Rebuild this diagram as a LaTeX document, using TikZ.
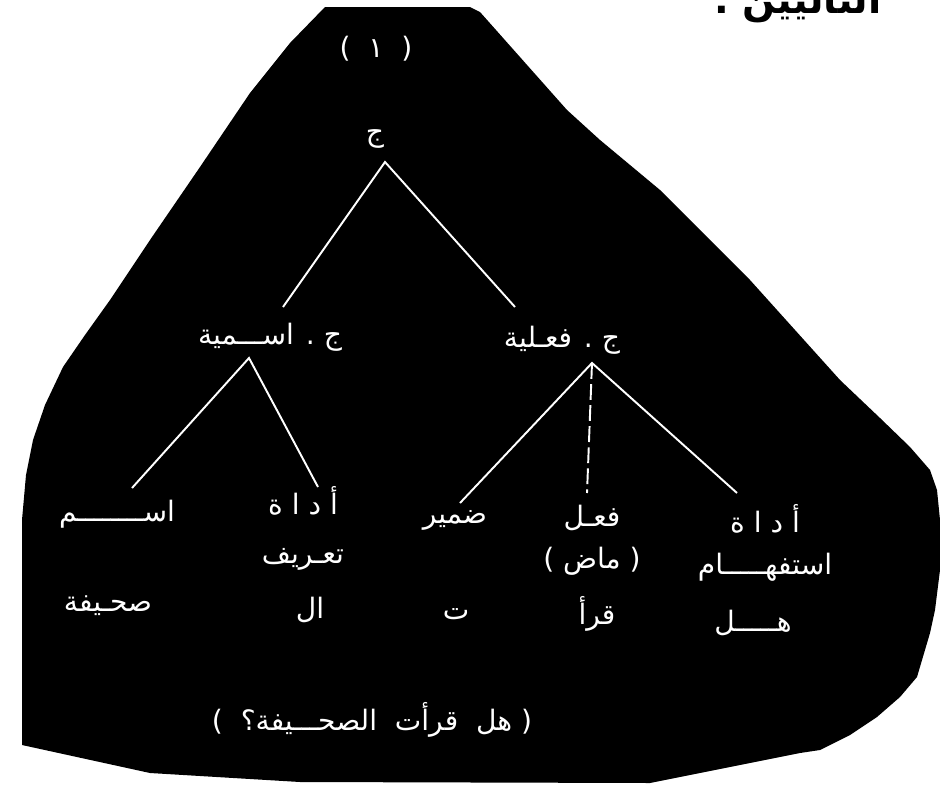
\documentclass[tikz,border=0pt]{standalone}
\usepackage{fontspec}
\newfontfamily\arabicfont[Script=Arabic]{DejaVu Sans}
\newfontfamily\latinfont{DejaVu Sans}
\TeXXeTstate=1
\begin{document}
\begin{tikzpicture}[x=0.02cm,y=-0.02cm,
  lbl/.style={text=white, font=\arabicfont\fontsize{16}{24}\selectfont, inner sep=0pt, align=center},
  edge/.style={white, line width=1.1pt}]
\useasboundingbox (0,0) rectangle (940,785);
\fill[white] (0,0) rectangle (940,785);
% black blob
\fill[black] (325,7) -- (470,7) -- (480,12) -- (567,110) -- (600,140) -- (660,190)
  -- (750,280) -- (840,380) -- (880,418) -- (910,447) -- (930,470) -- (937,490)
  -- (940,520) -- (940,570) -- (935,610) -- (930,633) -- (917,677) -- (900,697)
  -- (877,717) -- (850,735) -- (820,750) -- (800,753) -- (650,783) -- (300,782)
  -- (150,773) -- (22,745) -- (22,520) -- (26,475) -- (33,440) -- (45,405)
  -- (63,367) -- (85,335) -- (110,300) -- (150,240) -- (200,167) -- (250,93)
  -- (290,43) -- cycle;

% top-right cut-off text
\node[anchor=base east, inner sep=0pt, font=\arabicfont\bfseries\fontsize{22}{26}\selectfont] (topt) at (882,13) {\beginR التاليين .\endR};

% labels
\node[lbl] (num) at (376,49) {{\latinfont (}\ \ ١\ \ {\latinfont )}};
\node[lbl] (root) at (375,139) {\beginR ج\endR};
\node[lbl] (nom) at (270,337) {\beginR ج . اســـمية\endR};
\node[lbl] (verb) at (562,340) {\beginR ج . فعـلية\endR};
\node[lbl] (ism) at (117,514) {\beginR اســــــــم\endR};
\node[lbl] (adat) at (303,528) {\beginR أ د ا ة\endR\\[4pt]\beginR تعـريف\endR};
\node[lbl] (damir) at (455,520) {\beginR ضمير\endR};
\node[lbl] (fiel) at (592,540) {\beginR فعـل\endR\\\beginR ( ماض )\endR};
\node[lbl] (istif) at (765,543) {\beginR أ د ا ة\endR\\\beginR استفهـــــام\endR};
\node[lbl] (w1) at (108,606) {\beginR صحـيفة\endR};
\node[lbl] (w2) at (310,610) {\beginR ال\endR};
\node[lbl] (w3) at (456,614) {\beginR ت\endR};
\node[lbl] (w4) at (597,614) {\beginR قرأ\endR};
\node[lbl] (w5) at (753,623) {\beginR هـــــل\endR};
\node[lbl] (sent) at (372,720) {\beginR (\ هل\ \ قرأت\ \ الصحـــيفة؟\ \ )\endR};

% junction points
\coordinate (rootB) at (385,162);
\coordinate (nomT) at (283,307);
\coordinate (verbT) at (515,307);
\coordinate (nomB) at (249,358);
\coordinate (verbB) at (592,363);
\coordinate (ismT) at (132,488);
\coordinate (adatT) at (318,487);
\coordinate (damirT) at (460,503);
\coordinate (fielT) at (587,493);
\coordinate (istifT) at (737,493);

\draw[edge] (nomT) -- (rootB) -- (verbT);
\draw[edge] (ismT) -- (nomB) -- (adatT);
\draw[edge] (damirT) -- (verbB) -- (istifT);
\draw[edge, dash pattern=on 9pt off 3pt] (verbB) -- (fielT);
\end{tikzpicture}
\end{document}
